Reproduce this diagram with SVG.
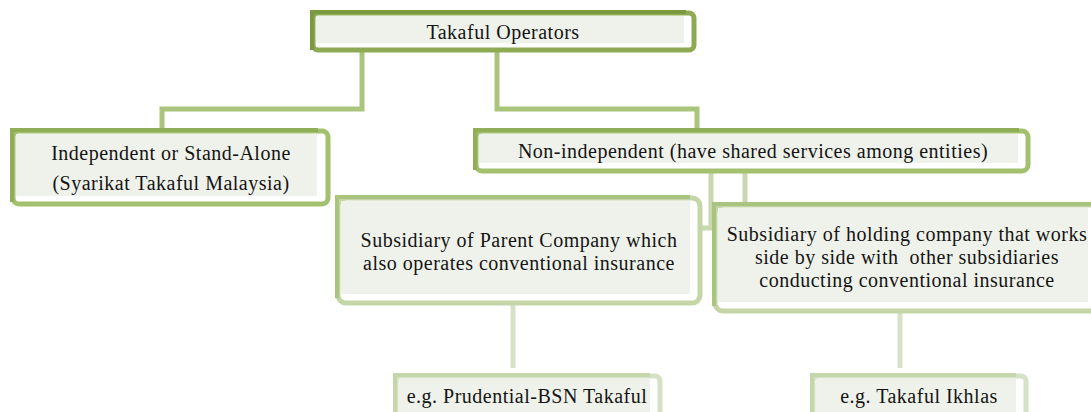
<svg xmlns="http://www.w3.org/2000/svg" width="1091" height="412" viewBox="0 0 1091 412">
  <style>
    .lbl { font-family: "Liberation Serif", "Times New Roman", serif; font-size: 20px; letter-spacing: 0.5px; fill: #141414; text-anchor: middle; }
    .frame { fill: #ffffff; stroke-width: 5; stroke-linejoin: round; }
    .edge { fill: none; stroke-width: 4; stroke-linecap: square; }
    .inner { fill: #eff2ea; }
    .wire { fill: none; stroke-width: 5; }
    .l0 .frame { stroke: #8eab53; } .l0 .edge { stroke: #7b9a40; }
    .l1 .frame { stroke: #a3c06f; } .l1 .edge { stroke: #8fae57; }
    .l2 .frame { stroke: #c4d6a8; } .l2 .edge { stroke: #a9c47f; }
    .l3 .frame { stroke: #d6e2c6; } .l3 .edge { stroke: #c4d6aa; }
    .w0 { stroke: #a9c47b; }
    .w1 { stroke: #c8d9af; }
    .w2 { stroke: #d6e2c6; }
  </style>

  <!-- connectors -->
  <g id="connectors">
    <path class="wire w0" d="M362,52 V109 H162 V129"/>
    <path class="wire w0" d="M497,52 V109 H697 V129"/>
    <path class="wire w1" d="M711,172 V228 H700"/>
    <path class="wire w1" d="M745,172 V204"/>
    <path class="wire w2" d="M513,304 V368"/>
    <path class="wire w2" d="M900,312 V368"/>
  </g>

  <!-- root -->
  <g id="takaful-operators" class="l0">
    <rect class="frame" x="313" y="13" width="381" height="37" rx="5"/>
    <rect class="inner" x="316" y="16" width="368" height="27"/>
    <path class="edge" d="M312,48 V12 H684"/>
    <text class="lbl" x="503" y="39">Takaful Operators</text>
  </g>

  <g id="independent" class="l1">
    <rect class="frame" x="13" y="131" width="315" height="73" rx="6"/>
    <rect class="inner" x="16" y="134" width="301" height="62"/>
    <path class="edge" d="M12,200 V130 H316"/>
    <text class="lbl" x="171" y="160">Independent or Stand-Alone</text>
    <text class="lbl" x="171" y="190">(Syarikat Takaful Malaysia)</text>
  </g>

  <g id="non-independent" class="l1">
    <rect class="frame" x="476" y="131" width="552" height="40" rx="6"/>
    <rect class="inner" x="479" y="134" width="539" height="29"/>
    <path class="edge" d="M475,168 V130 H1017"/>
    <text class="lbl" x="753" y="158">Non-independent (have shared services among entities)</text>
  </g>

  <g id="parent-company" class="l2">
    <rect class="frame" x="338" y="198" width="362" height="105" rx="8"/>
    <rect class="inner" x="341" y="201" width="349" height="93"/>
    <path class="edge" d="M337,296 V197 H688"/>
    <text class="lbl" x="519" y="246.5">Subsidiary of Parent Company which</text>
    <text class="lbl" x="519" y="269.5">also operates conventional insurance</text>
  </g>

  <g id="holding-company" class="l2">
    <rect class="frame" x="715" y="205" width="390" height="106" rx="8"/>
    <rect class="inner" x="718" y="208" width="370" height="94"/>
    <path class="edge" d="M714,304 V204 H1091"/>
    <text class="lbl" x="907" y="241">Subsidiary of holding company that works</text>
    <text class="lbl" x="907" y="264" xml:space="preserve">side by side with  other subsidiaries</text>
    <text class="lbl" x="907" y="287">conducting conventional insurance</text>
  </g>

  <g id="prudential-bsn" class="l3">
    <rect class="frame" x="396" y="376" width="264" height="60" rx="5"/>
    <rect class="inner" x="399" y="379" width="251" height="50"/>
    <path class="edge" d="M395,412 V375 H648"/>
    <text class="lbl" x="527" y="403">e.g. Prudential-BSN Takaful</text>
  </g>

  <g id="takaful-ikhlas" class="l3">
    <rect class="frame" x="813" y="376" width="213" height="60" rx="5"/>
    <rect class="inner" x="816" y="379" width="200" height="50"/>
    <path class="edge" d="M812,412 V375 H1014"/>
    <text class="lbl" x="919" y="403">e.g. Takaful Ikhlas</text>
  </g>
</svg>
